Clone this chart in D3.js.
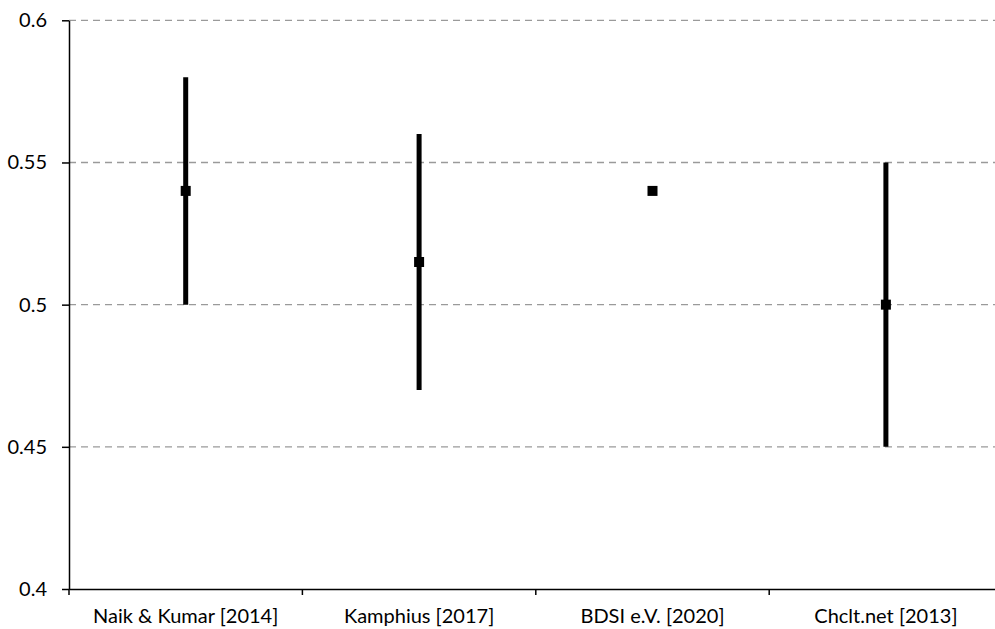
<!DOCTYPE html>
<html><head><meta charset="utf-8">
<script src="https://cdn.jsdelivr.net/npm/d3@7"></script>
<style>body{margin:0;background:#fff;} text{font-family:Lato, "Open Sans", sans-serif;}</style>
</head><body><svg id="c" width="995" height="629"></svg>
<script>
const categories = ["Naik & Kumar [2014]", "Kamphius [2017]", "BDSI e.V. [2020]", "Chclt.net [2013]"];
const values = [0.54, 0.515, 0.54, 0.50];
const lows = [0.50, 0.47, null, 0.45];
const highs = [0.58, 0.56, null, 0.55];
const yTicks = [0.4, 0.45, 0.5, 0.55, 0.6];

const svg = d3.select("#c");
const L = 69, R = 1002.6, T = 20.3, B = 589;
const x = d3.scaleBand().domain(categories).range([L, R]);
const y = d3.scaleLinear().domain([0.4, 0.6]).range([B, T]);

// gridlines
svg.append("g").selectAll("line").data(yTicks.filter(d => d > 0.4)).join("line")
  .attr("x1", L).attr("x2", R).attr("y1", d => y(d)).attr("y2", d => y(d))
  .attr("stroke", "#9a9a9a").attr("stroke-width", 1.3).attr("stroke-dasharray", "7,5");

// y axis
const ya = svg.append("g").attr("transform", `translate(${L},0)`)
  .call(d3.axisLeft(y).tickValues(yTicks).tickFormat(d => String(+d.toFixed(2))).tickSizeInner(7).tickSizeOuter(0).tickPadding(15));
ya.select(".domain").attr("stroke", "#000").attr("stroke-width", 1.5);
ya.selectAll(".tick line").attr("stroke", "#000").attr("stroke-width", 1.5);
ya.selectAll("text").attr("font-size", 20).attr("fill", "#000").attr("font-family", "Lato");

// x axis
const xa = svg.append("g").attr("transform", `translate(0,${B})`)
  .call(d3.axisBottom(x).tickSize(0).tickPadding(20));
xa.select(".domain").attr("stroke", "#000").attr("stroke-width", 1.5);
xa.selectAll("text").attr("font-size", 20).attr("fill", "#000").attr("font-family", "Lato");
// band boundary ticks
const bounds = categories.map(c => x(c));
xa.selectAll(".btick").data(bounds).join("line").attr("class", "btick")
  .attr("x1", d => d).attr("x2", d => d).attr("y1", 0).attr("y2", 6)
  .attr("stroke", "#000").attr("stroke-width", 1.5);

const cx = c => x(c) + x.bandwidth() / 2;
// error bars
svg.append("g").selectAll("line").data(categories.map((c, i) => ({c, lo: lows[i], hi: highs[i]})).filter(d => d.lo != null))
  .join("line").attr("x1", d => cx(d.c)).attr("x2", d => cx(d.c))
  .attr("y1", d => y(d.lo)).attr("y2", d => y(d.hi))
  .attr("stroke", "#000").attr("stroke-width", 5);
// markers
const s = 10;
svg.append("g").selectAll("rect").data(categories.map((c, i) => ({c, v: values[i]})))
  .join("rect").attr("x", d => cx(d.c) - s / 2).attr("y", d => y(d.v) - s / 2)
  .attr("width", s).attr("height", s).attr("fill", "#000");
</script></body></html>
